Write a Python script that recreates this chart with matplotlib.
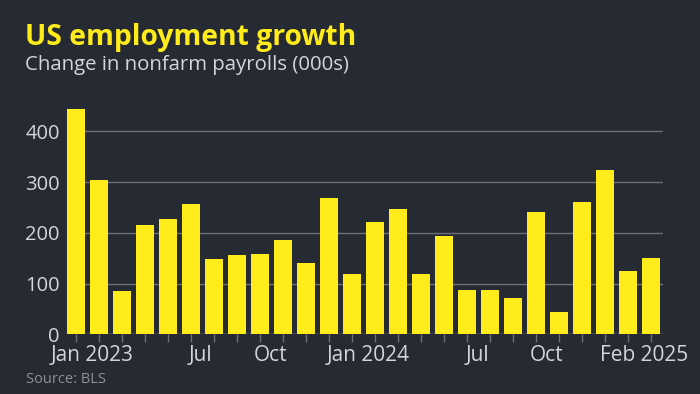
import numpy as np
import matplotlib
matplotlib.use('Agg')
import matplotlib.pyplot as plt

# 数据：非农就业人数变化（千人）
months = ['Jan 2023', 'Feb 2023', 'Mar 2023', 'Apr 2023', 'May 2023', 'Jun 2023',
          'Jul 2023', 'Aug 2023', 'Sep 2023', 'Oct 2023', 'Nov 2023', 'Dec 2023',
          'Jan 2024', 'Feb 2024', 'Mar 2024', 'Apr 2024', 'May 2024', 'Jun 2024',
          'Jul 2024', 'Aug 2024', 'Sep 2024', 'Oct 2024', 'Nov 2024', 'Dec 2024',
          'Jan 2025', 'Feb 2025']
payrolls = [444, 305, 85, 216, 227, 257, 148, 157, 158, 186, 141, 269,
            119, 222, 246, 118, 193, 87, 87, 71, 240, 44, 261, 323, 125, 151]

tick_labels = ['Jan 2023', 'Jul', 'Oct', 'Jan 2024', 'Jul', 'Oct', 'Feb 2025']
tick_pos = [0.69, 5.43, 8.47, 12.7, 17.43, 20.47, 24.69]
y_ticks = [0, 100, 200, 300, 400]

bg = '#262a33'
yellow = '#ffec1a'
grid_c = '#6e717a'
text_c = '#d3d5db'
font = 'Open Sans'

fig = plt.figure(figsize=(7, 3.94), dpi=100, facecolor=bg)
ax = fig.add_axes([0.0953, 0.1515, 0.8514, 0.5797], facecolor=bg)

x = np.arange(len(payrolls))
ax.bar(x, payrolls, width=0.8, color=yellow, zorder=3)

ax.set_xlim(-0.4, 25.5)
ax.set_ylim(0, 450)

for s in ax.spines.values():
    s.set_visible(False)

# 网格线
ax.set_yticks(y_ticks)
ax.yaxis.grid(True, color=grid_c, linewidth=1, zorder=0)
ax.axhline(0, color=grid_c, linewidth=1, zorder=1)
ax.tick_params(axis='y', length=0, pad=5, labelsize=14.5, labelcolor=text_c)
for t in ax.get_yticklabels():
    t.set_fontfamily(font)

# 横轴刻度：每根柱子一个短刻度，标签单独放
ax.set_xticks(x, minor=True)
ax.set_xticks(tick_pos)
ax.set_xticklabels(tick_labels, fontfamily=font)
ax.tick_params(axis='x', which='minor', length=6, width=1, color=grid_c)
ax.tick_params(axis='x', which='major', length=0, pad=8, labelsize=15, labelcolor=text_c)

fig.text(0.036, 0.887, 'US employment growth', fontsize=20.3, fontweight='bold',
         color=yellow, fontfamily=font, va='baseline')
fig.text(0.036, 0.822, 'Change in nonfarm payrolls (000s)', fontsize=14.7,
         color=text_c, fontfamily=font, va='baseline')
fig.text(0.037, 0.029, 'Source: BLS', fontsize=10.5, color='#8d9098',
         fontfamily=font, va='baseline')

fig.savefig('out.png', dpi=100, facecolor=bg)
